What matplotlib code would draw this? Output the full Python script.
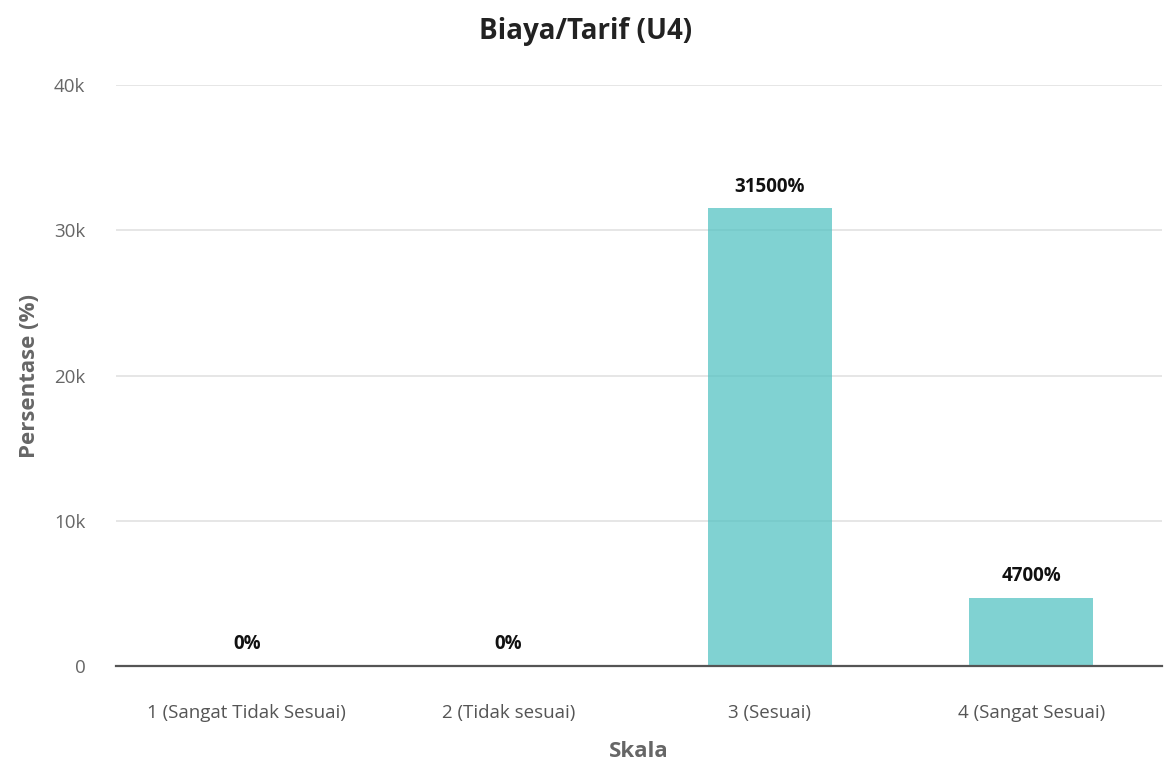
import matplotlib
matplotlib.use("Agg")
import matplotlib.pyplot as plt
from matplotlib.ticker import FuncFormatter

plt.rcParams["font.family"] = ["Open Sans", "DejaVu Sans"]

categories = ["1 (Sangat Tidak Sesuai)", "2 (Tidak sesuai)", "3 (Sesuai)", "4 (Sangat Sesuai)"]
values = [0, 0, 31500, 4700]
value_labels = ["0%", "0%", "31500%", "4700%"]
y_ticks = [0, 10000, 20000, 30000, 40000]

fig = plt.figure(figsize=(11.71, 7.63), dpi=100)
ax = fig.add_axes([0.0991, 0.1271, 0.8932, 0.7615])

x = range(len(categories))
ax.bar(x, values, width=0.475, color=(75 / 255, 192 / 255, 192 / 255, 0.7), zorder=3)

for xi, v, lab in zip(x, values, value_labels):
    ax.annotate(lab, (xi, v), xytext=(0, 8.5), textcoords="offset points",
                ha="center", va="bottom", fontsize=13.5, fontweight="bold", color="#111111")

ax.set_xlim(-0.5, len(categories) - 0.5)
ax.set_ylim(0, 40000)
ax.set_yticks(y_ticks)
ax.yaxis.set_major_formatter(FuncFormatter(lambda v, p: "0" if v == 0 else f"{int(v / 1000)}k"))
ax.set_xticks(list(x), categories)
ax.grid(axis="y", color="#e2e2e2", linewidth=1.2, zorder=0)
ax.tick_params(axis="y", length=0, pad=22, labelsize=13.5, labelcolor="#666666")
ax.tick_params(axis="x", length=0, pad=27, labelsize=13.5, labelcolor="#555555")

for side in ["top", "right", "left"]:
    ax.spines[side].set_visible(False)
ax.spines["bottom"].set_color("#555555")
ax.spines["bottom"].set_linewidth(1.6)
ax.spines["bottom"].set_zorder(4)

ax.set_ylabel("Persentase (%)", fontsize=16, fontweight="bold", color="#666666", labelpad=10)
ax.set_xlabel("Skala", fontsize=16, fontweight="bold", color="#666666", labelpad=14)
fig.suptitle("Biaya/Tarif (U4)", x=0.5, y=0.978, fontsize=20, fontweight="bold", color="#222222")

fig.savefig("out.png", dpi=100)
